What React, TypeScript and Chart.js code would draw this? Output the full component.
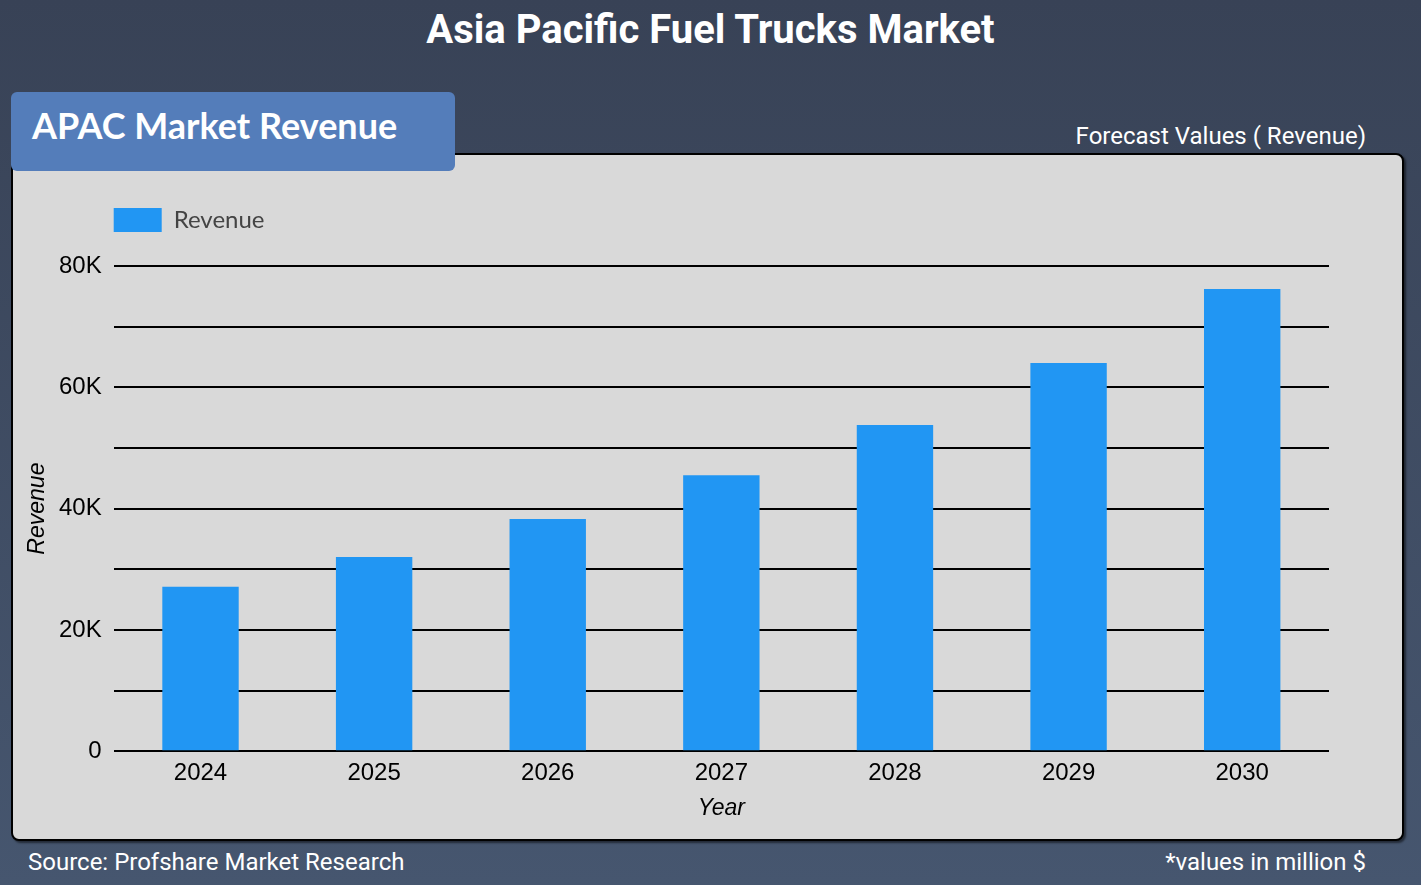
import React, { useEffect, useRef } from 'react';
import Chart from 'chart.js/auto';

const years = ['2024', '2025', '2026', '2027', '2028', '2029', '2030'];
const revenue = [27100, 32000, 38300, 45500, 53800, 64000, 76200];
const yMax = 80000;
const yStep = 10000;

// legend sits at the left of the plot, not the left of the canvas,
// and leaves some room above the plot
const legendToPlot = {
  id: 'legendToPlot',
  afterInit(chart: any) {
    const lg = chart.legend;
    if (!lg) return;
    const fit = lg.fit.bind(lg);
    lg.fit = () => {
      fit();
      lg.height += 24;
    };
  },
  afterLayout(chart: any) {
    const lg = chart.legend;
    if (!lg) return;
    const dx = chart.chartArea.left - 10 - lg.left;
    lg.left += dx;
    lg.right += dx;
  },
};

const RevenueChart = () => {
  const chartRef = useRef<HTMLCanvasElement | null>(null);

  useEffect(() => {
    const canvas = chartRef.current;
    if (!canvas) return;

    const chart = new Chart(canvas, {
      type: 'bar',
      data: {
        labels: years,
        datasets: [
          {
            label: 'Revenue',
            data: revenue,
            backgroundColor: '#2196f3',
            barPercentage: 0.44,
            categoryPercentage: 1,
          },
        ],
      },
      options: {
        responsive: false,
        animation: false,
        layout: { padding: { left: 0, right: 73, top: 43, bottom: 19 } },
        plugins: {
          legend: {
            align: 'start',
            labels: {
              boxWidth: 48,
              boxHeight: 24,
              color: '#444',
              font: { family: 'Lato', size: 24 },
            },
          },
          tooltip: { enabled: false },
        },
        scales: {
          x: {
            grid: { display: false },
            border: { display: false },
            ticks: { color: '#000', padding: 0, font: { family: 'Liberation Sans', size: 24 } },
            title: {
              display: true,
              text: 'Year',
              color: '#000',
              padding: { top: 9, bottom: 0 },
              font: { family: 'Liberation Sans', size: 23, style: 'italic', lineHeight: 1 },
            },
          },
          y: {
            min: 0,
            max: yMax,
            border: { display: false },
            grid: { color: '#000', lineWidth: 2, drawTicks: false },
            ticks: {
              stepSize: yStep,
              padding: 12,
              color: '#000',
              font: { family: 'Liberation Sans', size: 24 },
              callback: (v: any) => (v % 20000 === 0 ? (v === 0 ? '0' : v / 1000 + 'K') : ''),
            },
            title: {
              display: true,
              text: 'Revenue',
              color: '#000',
              padding: { top: 13, bottom: -2 },
              font: { family: 'Liberation Sans', size: 23, style: 'italic', lineHeight: 1 },
            },
          },
        },
      },
      plugins: [legendToPlot],
    });

    return () => {
      chart.destroy();
    };
  }, []);

  return <canvas ref={chartRef} width={1389} height={684} style={{ display: 'block' }} />;
};

export default function App() {
  return (
    <div
      style={{
        position: 'relative',
        width: 1421,
        height: 885,
        overflow: 'hidden',
        background: 'linear-gradient(180deg, #384256 0%, #46566f 100%)',
        fontFamily: 'Roboto',
        color: '#fff',
      }}
    >
      <style>{'body{margin:0}'}</style>
      <div
        style={{
          position: 'absolute',
          top: 6,
          left: 0,
          width: '100%',
          textAlign: 'center',
          fontWeight: 700,
          fontSize: 40,
        }}
      >
        Asia Pacific Fuel Trucks Market
      </div>
      <div style={{ position: 'absolute', top: 122, right: 55, fontSize: 24 }}>Forecast Values ( Revenue)</div>
      <div
        style={{
          position: 'absolute',
          left: 11,
          top: 153,
          width: 1393,
          height: 688,
          boxSizing: 'border-box',
          border: '2px solid #000',
          borderRadius: 8,
          background: '#d9d9d9',
          boxShadow: '2px 2px 2px rgba(0,0,0,0.5)',
        }}
      >
        <RevenueChart />
      </div>
      <div
        style={{
          position: 'absolute',
          left: 11,
          top: 92,
          width: 444,
          height: 79,
          boxSizing: 'border-box',
          paddingLeft: 21,
          lineHeight: '66px',
          background: '#547dba',
          borderRadius: 6,
          fontFamily: 'Lato',
          fontWeight: 700,
          fontSize: 36,
        }}
      >
        APAC Market Revenue
      </div>
      <div style={{ position: 'absolute', left: 28, top: 848, fontSize: 24 }}>Source: Profshare Market Research</div>
      <div style={{ position: 'absolute', right: 55, top: 848, fontSize: 24 }}>*values in million $</div>
    </div>
  );
}
